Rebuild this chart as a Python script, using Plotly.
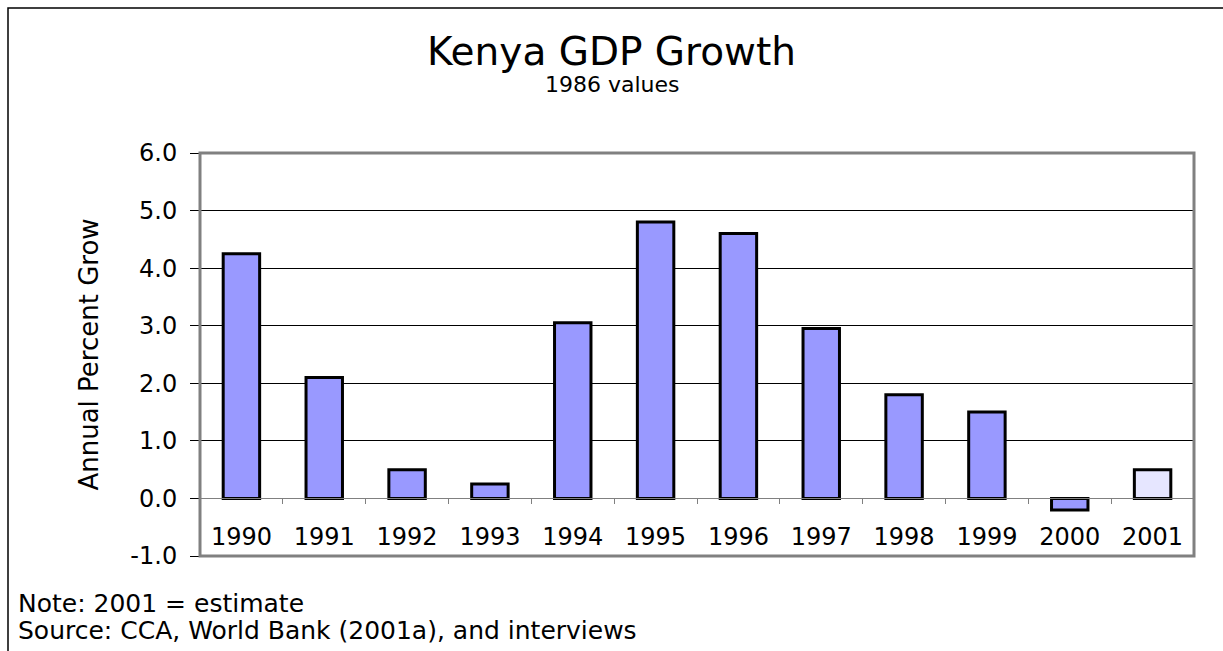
import plotly.graph_objects as go

years = ["1990", "1991", "1992", "1993", "1994", "1995", "1996", "1997", "1998", "1999", "2000", "2001"]
growth = [4.25, 2.1, 0.5, 0.25, 3.05, 4.8, 4.6, 2.95, 1.8, 1.5, -0.2, 0.5]
estimate_flags = [False] * 11 + [True]
y_ticks = [-1.0, 0.0, 1.0, 2.0, 3.0, 4.0, 5.0, 6.0]

colors = ["#E6E6FF" if e else "#9999FF" for e in estimate_flags]
ymin, ymax = -1.0, 6.0

fig = go.Figure()
fig.add_trace(go.Bar(
    x=years, y=growth, width=0.44,
    marker=dict(color=colors, line=dict(color="black", width=3)),
    hoverinfo="x+y",
))

font = "DejaVu Sans, Liberation Sans, Arial, sans-serif"
fig.update_layout(
    width=1223, height=651,
    margin=dict(l=200, r=29, t=153, b=95),
    paper_bgcolor="white", plot_bgcolor="white",
    showlegend=False,
    font=dict(family=font, color="black"),
    title=dict(text="Kenya GDP Growth", x=0.5, xref="container", xanchor="center",
               y=1 - 51 / 651, yref="container", yanchor="middle",
               font=dict(size=39, family=font)),
    xaxis=dict(
        type="category", anchor="free", position=(0 - ymin) / (ymax - ymin),
        showline=True, linecolor="#808080", linewidth=1,
        ticks="outside", tickson="boundaries", ticklen=5, tickcolor="#808080",
        tickfont=dict(size=24, family=font), ticklabelstandoff=17,
        showgrid=False, zeroline=False, range=[-0.5, 11.5],
    ),
    yaxis=dict(
        range=[ymin, ymax], tickvals=y_ticks, ticktext=[f"{v:.1f}" for v in y_ticks],
        ticks="outside", ticklen=9, tickcolor="black",
        tickfont=dict(size=24, family=font), ticklabelstandoff=8,
        showgrid=True, gridcolor="black", gridwidth=1, zeroline=False,
        showline=False,
        title=dict(text="Annual Percent Grow", font=dict(size=26, family=font), standoff=24),
    ),
)

# plot-area frame (Excel style grey box)
fig.add_shape(type="rect", xref="x domain", yref="y domain", x0=0, x1=1, y0=0, y1=1,
              line=dict(color="#808080", width=3), layer="above")
# outer chart frame
pw, ph = 1223 - 200 - 29, 651 - 153 - 95
fig.add_shape(type="rect", xref="paper", yref="paper",
              x0=(8 - 200) / pw, x1=(1240 - 200) / pw,
              y0=-(680 - 556) / ph, y1=1 + (153 - 8) / ph,
              line=dict(color="black", width=1.5))

fig.add_annotation(text="1986 values", xref="paper", yref="paper",
                   x=(612 - 200) / pw, y=1 + (153 - 84) / ph, showarrow=False,
                   font=dict(size=22, family=font), xanchor="center", yanchor="middle")
fig.add_annotation(text="Note: 2001 = estimate", xref="paper", yref="paper",
                   x=(16 - 200) / pw, y=-(603 - 556) / ph, showarrow=False,
                   font=dict(size=25, family=font), xanchor="left", yanchor="middle")
fig.add_annotation(text="Source: CCA, World Bank (2001a), and interviews", xref="paper", yref="paper",
                   x=(16 - 200) / pw, y=-(630 - 556) / ph, showarrow=False,
                   font=dict(size=25, family=font), xanchor="left", yanchor="middle")

fig.write_html("out.html")
